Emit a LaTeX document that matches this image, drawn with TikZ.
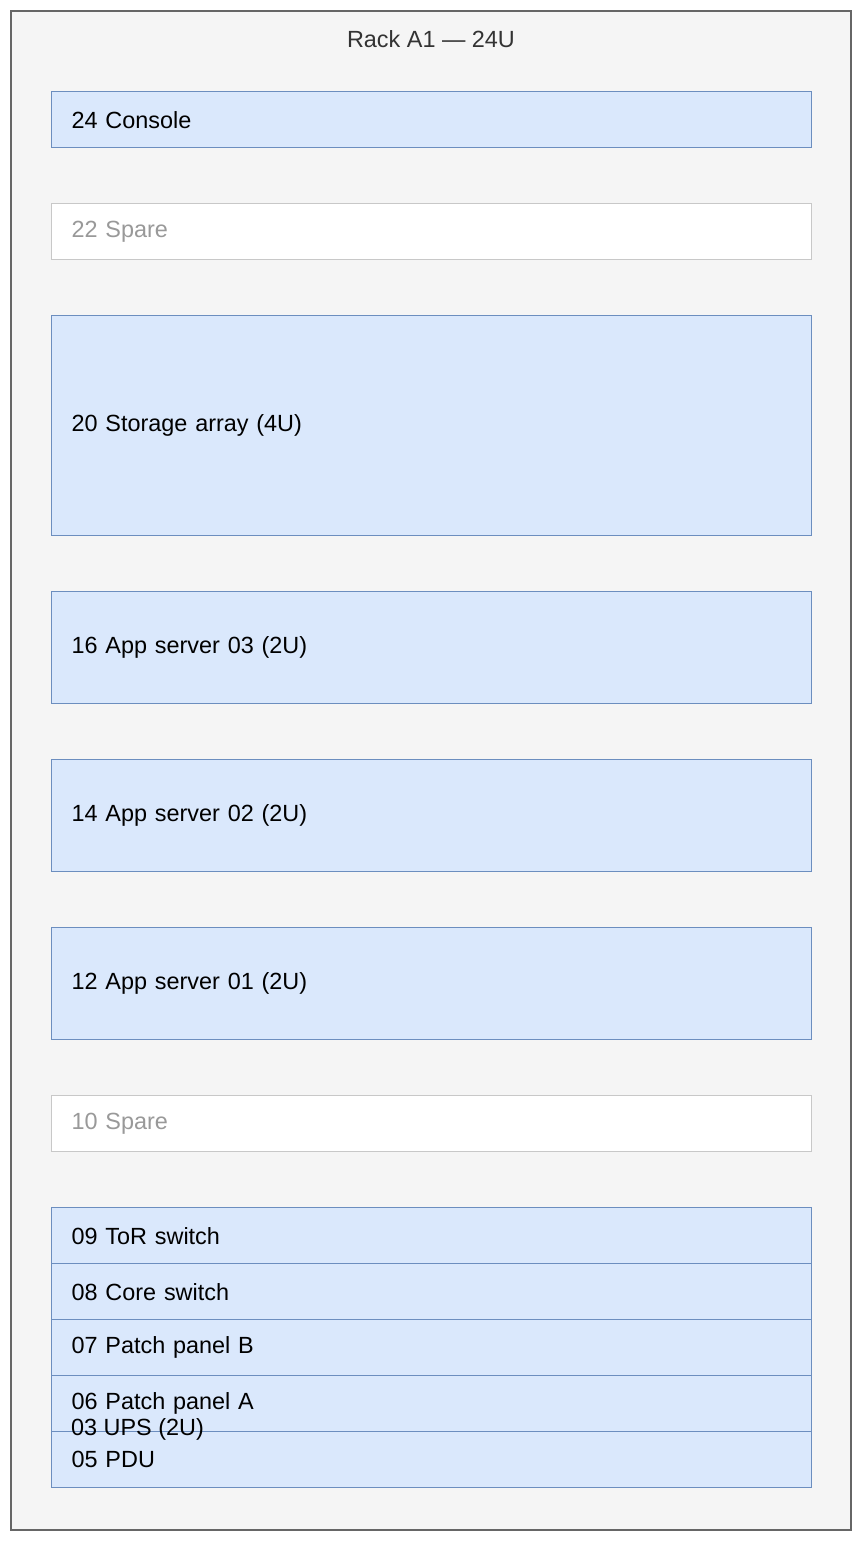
\documentclass[tikz,border=0pt]{standalone}
\usepackage{fontspec}
\setmainfont{Liberation Sans}
\usetikzlibrary{positioning}
\definecolor{unitfill}{HTML}{DAE8FC}
\definecolor{unitdraw}{HTML}{6C8EBF}
\definecolor{sparedraw}{HTML}{C8C8C8}
\definecolor{sparetext}{HTML}{999999}
\definecolor{rackfill}{HTML}{F5F5F5}
\definecolor{rackdraw}{HTML}{666666}
\tikzset{
	unit/.style={
		rectangle,
		draw=unitdraw,
		fill=unitfill,
		line width=1.3bp,
		anchor=north west,
		minimum width=760bp,
		text width=720bp,
		inner xsep=20bp,
		align=left,
		font=\fontsize{23.5}{27}\selectfont
	},
	spare/.style={
		unit,
		draw=sparedraw,
		fill=white,
		text=sparetext
	}
}
\begin{document}
\begin{tikzpicture}[x=1bp, y=-1bp]
		\useasboundingbox (0,0) rectangle (862,1542);
		\draw[fill=rackfill, draw=rackdraw, line width=1.3bp] (11,11) rectangle (851,1530);
		\node[font=\fontsize{23.5}{27}\selectfont, text=black!80] (Title) at (431,39) {Rack A1 — 24U};
		
		\node[unit, minimum height=56bp] (U24) at (51,91) {24 Console};
		\node[spare, minimum height=56bp] (U22) at (51,203) {22 Spare};
		\node[unit, minimum height=220bp] (U20) at (51,315) {20 Storage array (4U)};
		\node[unit, minimum height=112bp] (U16) at (51,591) {16 App server 03 (2U)};
		\node[unit, minimum height=112bp] (U14) at (51,759) {14 App server 02 (2U)};
		\node[unit, minimum height=112bp] (U12) at (51,927) {12 App server 01 (2U)};
		\node[spare, minimum height=56bp] (U10) at (51,1095) {10 Spare};
		
		\node[unit, minimum height=112bp] (U03) at (51,1375) {};
		\node[unit, minimum height=56bp] (U09) at (51,1207) {09 ToR switch};
		\node[unit, minimum height=56bp] (U08) at (51,1263) {08 Core switch};
		\node[unit, minimum height=56bp] (U07) at (51,1319) {07 Patch panel B};
		\node[unit, minimum height=56bp] (U06) at (51,1375) {06 Patch panel A};
		\node[unit, minimum height=56bp] (U05) at (51,1431) {05 PDU};
		\node[anchor=west, inner xsep=20bp, font=\fontsize{23.5}{27}\selectfont] (U03Label) at ([yshift=2bp]U03.west) {03 UPS (2U)};
	\end{tikzpicture}
\end{document}
